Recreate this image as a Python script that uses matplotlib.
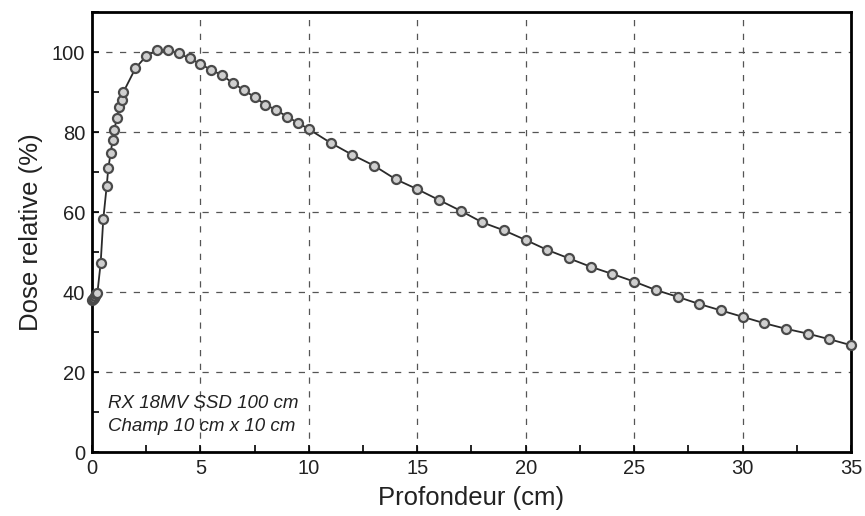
import matplotlib
matplotlib.use("Agg")
import matplotlib.pyplot as plt
from matplotlib.ticker import MultipleLocator

plt.rcParams['font.family'] = ['Liberation Sans', 'DejaVu Sans']

depth = [0.0, 0.05, 0.1, 0.15, 0.2, 0.25, 0.4, 0.52, 0.68, 0.75, 0.86, 0.95,
         1.03, 1.14, 1.26, 1.37, 1.45, 2.0, 2.5, 3.0, 3.5, 4.0, 4.5, 5.0, 5.5,
         6.0, 6.5, 7.0, 7.5, 8.0, 8.5, 9.0, 9.5, 10.0, 11, 12, 13, 14, 15, 16,
         17, 18, 19, 20, 21, 22, 23, 24, 25, 26, 27, 28, 29, 30, 31, 32, 33,
         34, 35]
dose = [38.0, 38.3, 38.6, 39.0, 39.4, 39.8, 47.3, 58.2, 66.6, 70.9, 74.7, 78.0,
        80.5, 83.4, 86.3, 88.0, 90.0, 95.9, 99.0, 100.4, 100.4, 99.7, 98.4,
        97.0, 95.5, 94.2, 92.2, 90.5, 88.7, 86.8, 85.5, 83.8, 82.3, 80.7, 77.3,
        74.3, 71.6, 68.2, 65.7, 63.0, 60.3, 57.4, 55.4, 53.0, 50.5, 48.4, 46.3,
        44.5, 42.6, 40.5, 38.8, 37.0, 35.4, 33.8, 32.2, 30.8, 29.6, 28.2, 26.7]

x_ticks = [0, 5, 10, 15, 20, 25, 30, 35]
y_ticks = [0, 20, 40, 60, 80, 100]
xlabel = "Profondeur (cm)"
ylabel = "Dose relative (%)"
note_lines = ["RX 18MV SSD 100 cm", "Champ 10 cm x 10 cm"]

fig = plt.figure(figsize=(8.65, 5.16), dpi=100)
ax = fig.add_axes([92/865, 64/516, (851-92)/865, (452-12)/516])

ax.plot(depth, dose, '-', color='#2a2a2a', lw=1.3, marker='o', markersize=6.5,
        markerfacecolor='#cfcfcf', markeredgecolor='#4a4a4a', markeredgewidth=1.6,
        clip_on=False, zorder=3)

ax.set_xlim(0, 35)
ax.set_ylim(0, 110)
ax.set_xticks(x_ticks)
ax.set_yticks(y_ticks)
ax.xaxis.set_minor_locator(MultipleLocator(2.5))
ax.yaxis.set_minor_locator(MultipleLocator(10))
ax.tick_params(which='both', direction='in', length=5, width=1.2, color='black',
               top=False, right=False)
ax.tick_params(which='major', labelsize=14.5, labelcolor='#222222', pad=5)

for xv in x_ticks[1:-1]:
    ax.axvline(xv, color='#555555', lw=0.9, ls=(0, (5, 6)), zorder=1)
for yv in y_ticks[1:]:
    ax.axhline(yv, color='#555555', lw=0.9, ls=(0, (5, 6)), zorder=1)

for s in ax.spines.values():
    s.set_linewidth(2.0)
    s.set_color('black')

ax.set_xlabel(xlabel, fontsize=18.5, color='#222222', labelpad=6)
ax.set_ylabel(ylabel, fontsize=18.5, color='#222222', labelpad=6)

ax.text(0.021, 0.111, note_lines[0], transform=ax.transAxes, fontsize=13.5,
        style='italic', va='center', ha='left', color='#222222')
ax.text(0.021, 0.057, note_lines[1], transform=ax.transAxes, fontsize=13.5,
        style='italic', va='center', ha='left', color='#222222')

fig.savefig("out.png", dpi=100)
